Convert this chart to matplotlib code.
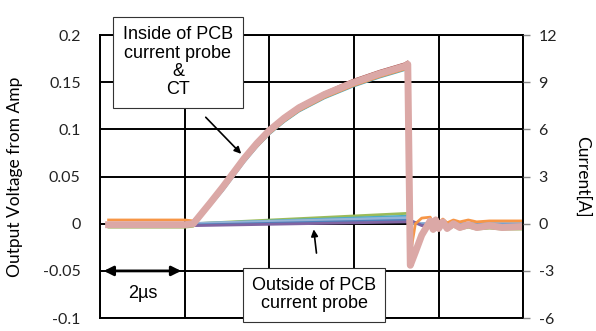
import matplotlib
matplotlib.use("Agg")
import matplotlib.pyplot as plt

# time axis in microseconds (one grid column = 2 us)
t_in = [0.2, 1.0, 2.0, 2.2, 2.6, 2.9, 3.4, 3.7, 4.0, 4.35, 4.7, 5.3, 5.95, 6.6,
        7.2, 7.27, 7.33, 7.45, 7.6, 7.8, 7.87, 7.93, 8.0, 8.1, 8.2, 8.35, 8.5,
        8.7, 8.9, 9.2, 9.5, 9.95]

# "inside of PCB current probe & CT" traces (output voltage)
pink = [-0.001, -0.001, -0.001, 0.000, 0.022, 0.039, 0.069, 0.085, 0.099, 0.112,
        0.123, 0.137, 0.149, 0.159, 0.167, 0.169, -0.044, -0.030, -0.012, 0.003,
        -0.006, 0.004, -0.005, 0.002, -0.005, 0.000, -0.004, -0.001, -0.004,
        -0.002, -0.004, -0.003]
orange = [0.004, 0.004, 0.004, 0.003, 0.022, 0.038, 0.067, 0.082, 0.096, 0.109,
          0.120, 0.134, 0.146, 0.156, 0.164, 0.166, -0.032, 0.000, 0.006, 0.007,
          0.000, 0.006, 0.001, 0.005, 0.001, 0.004, 0.002, 0.004, 0.002, 0.003,
          0.003, 0.003]
dark_red = [0.000, 0.000, 0.000, 0.001, 0.024, 0.041, 0.071, 0.087, 0.101, 0.114,
            0.125, 0.139, 0.152, 0.162, 0.170, 0.172, -0.040, -0.028, -0.010, 0.002,
            -0.005, 0.003, -0.004, 0.001, -0.004, 0.000, -0.003, -0.001, -0.003,
            -0.002, -0.003, -0.003]
aqua = [-0.003, -0.003, -0.003, -0.002, 0.019, 0.035, 0.065, 0.081, 0.095, 0.108,
        0.119, 0.133, 0.145, 0.155, 0.163, 0.165, -0.043, -0.031, -0.014, 0.001,
        -0.007, 0.002, -0.006, 0.000, -0.006, -0.002, -0.005, -0.003, -0.005,
        -0.004, -0.005, -0.005]
green = [-0.004, -0.004, -0.004, -0.003, 0.020, 0.036, 0.066, 0.082, 0.096, 0.109,
         0.120, 0.134, 0.146, 0.156, 0.164, 0.167, -0.045, -0.032, -0.015, 0.000,
         -0.008, 0.001, -0.007, -0.001, -0.007, -0.003, -0.006, -0.004, -0.006,
         -0.005, -0.006, -0.006]

# "outside of PCB current probe" traces
t_out = [0.2, 2.0, 2.2, 7.25, 7.32, 7.6, 9.95]
out_green = [-0.002, -0.002, 0.000, 0.011, 0.002, 0.000, -0.001]
out_aqua = [-0.001, -0.001, 0.000, 0.008, 0.001, 0.000, -0.001]
out_lblue = [0.000, 0.000, 0.000, 0.006, 0.001, 0.000, 0.000]
out_blue = [-0.001, -0.001, -0.001, 0.004, 0.003, -0.001, -0.001]
out_purple = [-0.002, -0.002, -0.002, 0.002, 0.004, -0.002, -0.002]

yticks = [-0.1, -0.05, 0, 0.05, 0.1, 0.15, 0.2]
ylabels = ["-0.1", "-0.05", "0", "0.05", "0.1", "0.15", "0.2"]
rticks = [-6, -3, 0, 3, 6, 9, 12]
rlabels = ["-6", "-3", "0", "3", "6", "9", "12"]

plt.rcParams['font.family'] = ['Lato', 'DejaVu Sans']
box_font = ['Liberation Sans', 'DejaVu Sans']

fig = plt.figure(figsize=(5.96, 3.31), dpi=100)
ax = fig.add_axes([0.168, 0.039, 0.71, 0.855])

# outside traces
ax.plot(t_out, out_green, color='#9BBB59', lw=2)
ax.plot(t_out, out_aqua, color='#4BACC6', lw=2)
ax.plot(t_out, out_lblue, color='#95B3D7', lw=2.5)
ax.plot(t_out, out_blue, color='#4F81BD', lw=1.5)
ax.plot(t_out, out_purple, color='#8064A2', lw=2)

# inside traces
ax.plot(t_in, green, color='#9BBB59', lw=1.5)
ax.plot(t_in, aqua, color='#4BACC6', lw=1.5)
ax.plot(t_in, orange, color='#F79646', lw=2)
ax.plot(t_in, dark_red, color='#A0403D', lw=1.5)
ax.plot(t_in, pink, color='#DBA8A6', lw=5)

ax.set_xlim(0, 10)
ax.set_ylim(-0.1, 0.2)
ax.set_xticks([0, 2, 4, 6, 8, 10])
ax.set_xticklabels([])
ax.set_yticks(yticks)
ax.set_yticklabels(ylabels, fontsize=11.5)
ax.tick_params(axis='x', length=0)
ax.tick_params(axis='y', length=0, pad=14, colors='#222222')
ax.grid(True, color='black', lw=1.4)
for s in ax.spines.values():
    s.set_color('black')
    s.set_linewidth(1.4)
ax.set_ylabel("Output Voltage from Amp", fontsize=12.5, labelpad=14)

ax2 = ax.twinx()
ax2.set_ylim(-6, 12)
ax2.set_yticks(rticks)
ax2.set_yticklabels(rlabels, fontsize=11.5)
ax2.tick_params(axis='y', length=5, width=1, color='#888888', labelcolor='#222222', pad=6)
ax2.set_ylabel("Current[A]", fontsize=12.5, rotation=-90, labelpad=24)
for s in ax2.spines.values():
    s.set_visible(False)

# annotations
ax.annotate("", xy=(3.38, 0.072), xytext=(2.45, 0.115),
            arrowprops=dict(arrowstyle='-|>', color='black', lw=1.2))
ax.text(1.84, 0.171, "Inside of PCB\ncurrent probe\n&\nCT", ha='center', va='center',
        fontsize=13, family=box_font, linespacing=1.1,
        bbox=dict(boxstyle='square,pad=0.55', fc='white', ec='#333333', lw=0.8))

ax.annotate("", xy=(5.04, -0.003), xytext=(5.12, -0.034),
            arrowprops=dict(arrowstyle='-|>', color='black', lw=1.2))
ax.text(5.06, -0.075, "Outside of PCB\ncurrent probe", ha='center', va='center',
        fontsize=13, family=box_font, linespacing=1.15,
        bbox=dict(boxstyle='square,pad=0.5', fc='white', ec='#333333', lw=0.8))

ax.annotate("", xy=(0.02, -0.05), xytext=(1.98, -0.05),
            arrowprops=dict(arrowstyle='<|-|>', color='black', lw=2,
                            mutation_scale=14))
ax.text(1.0, -0.0735, "2\u00b5s", ha='center', va='center', fontsize=13,
        family=box_font)

fig.savefig("out.png", dpi=100)
